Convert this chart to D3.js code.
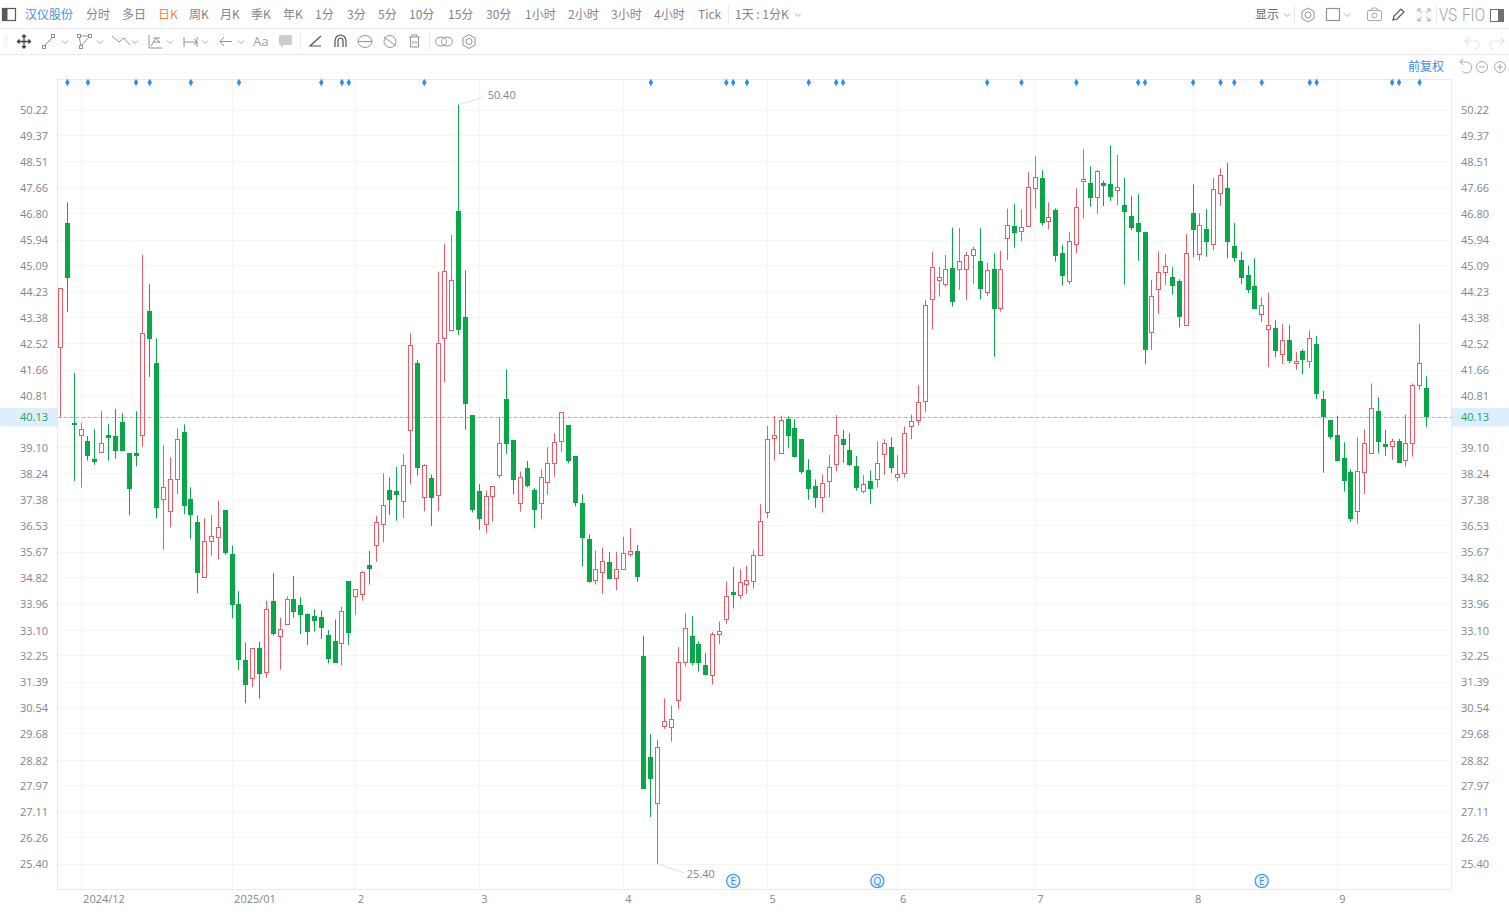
<!DOCTYPE html>
<html>
<head>
<meta charset="utf-8">
<title>汉仪股份 日K</title>
<script src="https://cdnjs.cloudflare.com/ajax/libs/d3/7.8.5/d3.min.js"></script>
<style>
html,body{margin:0;padding:0;background:#fff;overflow:hidden}
svg{display:block}
text{font-family:"Noto Sans CJK SC","Open Sans",sans-serif}
</style>
</head>
<body>
<svg id="c" width="1509" height="918"></svg>
<script>
const stockName = "汉仪股份";
const periodLabels = ["分时","多日","日K","周K","月K","季K","年K","1分","3分","5分","10分","15分","30分","1小时","2小时","3小时","4小时","Tick"];
const activePeriod = "日K";
const priceTicks = [50.22,49.37,48.51,47.66,46.80,45.94,45.09,44.23,43.38,42.52,41.66,40.81,39.10,38.24,37.38,36.53,35.67,34.82,33.96,33.10,32.25,31.39,30.54,29.68,28.82,27.97,27.11,26.26,25.40];
const hiddenGridTick = [39.95];
const lastPrice = 40.13;
const highLabel = 50.40, lowLabel = 25.40;
const monthLabels = ["2024/12","2025/01","2","3","4","5","6","7","8","9"];
const monthStartIndex = [3,25,43,61,82,103,122,142,165,186];
const dotIndex = [1,4,11,13,19,26,38,41,42,53,86,97,98,100,109,113,114,135,140,148,157,158,165,169,171,175,182,183,194,195,198];
const eventLabels = ["E","Q","E"];
const eventIndex = [98,119,175];

const opens = [42.41,46.48,39.90,39.50,39.32,38.73,38.95,39.52,39.48,39.94,
38.90,38.91,39.50,43.59,41.89,37.39,37.01,38.07,39.61,37.39,
36.65,34.83,35.99,36.15,37.02,35.59,33.93,32.11,31.51,32.50,
31.71,34.04,32.90,33.28,34.12,33.90,33.60,33.55,33.53,32.92,
32.74,32.68,34.70,34.21,34.25,35.22,35.90,36.58,37.70,37.66,
37.31,39.68,41.88,37.47,38.10,37.54,42.71,42.94,46.89,43.39,
40.16,37.66,36.58,37.47,38.18,40.70,39.33,37.27,38.43,37.68,
37.27,37.96,38.58,39.31,39.84,38.80,37.26,36.09,34.73,35.00,
35.34,34.78,35.10,35.59,35.69,32.22,28.90,27.40,29.92,29.90,
30.79,32.03,32.90,32.63,31.92,31.61,32.95,33.43,34.34,34.23,
34.62,34.71,35.56,36.97,39.40,38.91,40.02,39.75,39.37,38.35,
37.84,37.47,37.99,38.56,39.38,39.01,38.49,37.67,38.00,38.06,
38.88,39.11,38.13,38.25,39.81,40.00,40.64,43.99,44.60,44.49,
45.01,44.98,44.98,45.43,45.24,44.23,44.98,43.71,45.97,46.40,
46.22,46.39,47.65,47.98,46.54,46.90,45.49,44.57,45.80,47.87,
47.80,47.35,47.81,47.76,47.58,47.06,46.73,46.47,46.19,42.90,
44.31,44.85,44.71,44.56,43.12,46.82,45.45,46.29,45.79,47.47,
47.65,45.74,45.28,44.78,44.42,43.49,43.00,43.03,42.18,42.63,
41.88,42.26,41.95,42.51,40.70,40.01,39.49,38.74,38.30,37.00,
38.30,38.91,40.28,39.20,39.15,39.31,38.69,39.25,41.17,41.06];
const highs = [44.35,47.18,41.56,39.93,39.49,39.71,40.30,39.88,40.38,40.24,
38.90,40.30,45.46,44.48,42.70,39.19,38.79,39.74,39.87,37.80,
36.87,36.78,36.89,37.35,37.02,35.88,34.38,32.70,32.50,32.72,
34.07,34.98,33.51,34.21,34.88,34.19,33.65,33.78,33.75,33.10,
33.45,33.87,34.70,34.45,35.05,35.70,36.86,38.26,38.12,38.47,
38.89,42.87,41.99,38.56,38.22,44.90,45.81,46.11,50.40,44.95,
40.16,37.90,37.69,37.82,40.10,41.68,39.33,38.32,38.67,37.77,
38.39,39.12,39.58,40.29,39.85,38.80,37.57,36.25,35.72,35.81,
35.68,35.68,36.17,36.45,35.90,32.91,29.68,29.48,30.85,30.61,
32.54,33.65,33.56,32.72,32.34,33.03,33.38,34.70,35.18,35.10,
35.21,35.74,37.24,39.82,40.15,40.16,40.13,40.04,39.37,38.72,
38.06,38.22,38.86,40.18,39.69,39.58,38.83,38.20,38.35,39.31,
39.38,39.45,38.86,39.80,40.19,41.17,43.97,45.56,45.06,45.45,
46.35,46.34,45.54,45.72,46.33,45.20,45.50,45.58,46.97,47.12,
46.95,48.17,48.71,48.24,47.18,46.98,45.78,46.19,47.64,48.94,
48.36,48.25,47.89,49.05,48.74,47.99,47.39,47.45,46.19,44.63,
45.56,45.48,45.05,44.65,46.14,47.77,46.82,46.95,47.98,48.30,
48.48,46.50,45.56,45.10,45.34,44.05,44.21,43.30,43.17,43.14,
42.26,42.35,42.97,42.78,40.97,40.01,40.15,39.28,38.39,39.45,
39.71,41.22,40.77,39.69,39.40,39.40,40.20,41.22,43.18,41.45];
const lows = [40.09,43.58,38.01,37.79,38.68,38.54,38.95,38.68,38.74,39.01,
36.88,38.49,39.14,41.44,36.78,35.74,36.48,37.58,36.91,36.09,
34.31,34.83,35.55,35.42,35.58,33.49,31.78,30.69,31.22,30.84,
31.53,32.92,31.80,33.28,33.51,32.97,32.61,33.05,32.81,32.00,
32.03,31.94,32.61,33.60,34.07,34.60,35.35,35.99,36.89,36.70,
36.78,37.89,38.19,37.01,36.53,37.01,41.26,42.94,42.81,39.69,
36.97,36.40,36.29,36.68,38.10,38.90,37.56,37.00,37.80,36.45,
36.75,37.55,38.15,38.97,38.59,37.17,35.19,34.66,34.60,34.29,
34.77,34.41,35.08,35.52,34.69,27.87,26.95,25.40,29.85,29.43,
30.51,31.90,31.94,31.73,31.60,31.31,32.65,33.31,33.81,34.13,
34.29,34.46,35.55,36.78,38.68,38.91,39.08,38.78,38.24,37.39,
37.13,36.97,37.47,38.32,38.61,38.50,37.69,37.60,37.26,37.79,
38.21,38.27,38.00,38.12,39.38,39.84,40.26,43.00,44.08,44.41,
43.75,44.30,43.97,44.50,43.99,44.10,42.10,43.58,45.28,45.69,
45.89,46.36,46.97,46.41,46.29,45.23,44.44,44.48,45.50,46.66,
47.04,46.80,47.06,47.23,47.09,44.47,46.27,45.26,41.86,42.32,
43.50,44.47,44.14,43.06,43.12,45.37,45.26,45.39,45.61,47.06,
45.34,45.23,44.49,44.19,43.68,43.24,41.75,42.08,41.86,41.88,
41.67,41.52,41.73,40.71,38.28,39.38,38.65,37.66,36.67,36.61,
37.58,38.90,38.92,38.84,38.70,38.61,38.48,38.81,41.01,39.78];
const closes = [44.35,44.71,39.88,39.71,38.87,38.67,39.25,39.46,39.03,39.03,
37.75,38.84,42.86,42.69,37.15,37.79,38.07,39.38,37.22,36.89,
35.02,36.02,36.17,36.49,35.63,33.93,32.11,31.32,32.50,31.67,
33.78,32.98,33.13,34.11,33.71,33.60,33.05,33.42,33.20,32.15,
32.04,33.72,33.01,34.45,34.99,35.12,36.65,37.20,37.39,37.57,
38.51,42.47,38.45,38.51,37.49,42.54,44.90,44.60,42.99,40.55,
37.05,36.76,37.50,37.81,39.24,39.24,38.05,38.13,37.87,37.05,
38.13,38.59,39.28,40.25,38.68,37.27,36.14,34.71,35.09,35.36,
34.80,35.08,35.63,35.69,34.86,27.87,28.22,29.23,30.08,30.16,
32.04,33.16,32.03,32.03,31.61,32.96,33.06,34.19,34.26,34.65,
34.74,35.57,36.69,39.37,39.51,40.01,39.50,38.84,38.32,37.75,
37.49,37.93,38.46,39.51,39.22,38.56,37.80,37.90,37.77,38.59,
39.25,38.45,38.23,39.58,39.97,40.60,43.79,45.05,44.70,44.98,
43.91,45.24,45.43,45.64,44.36,44.94,43.68,44.98,46.41,46.21,
46.36,47.66,48.00,46.54,46.68,45.42,44.76,45.89,47.02,47.94,
47.35,48.19,47.73,47.35,47.68,46.87,46.38,46.21,42.35,44.09,
44.87,45.06,44.45,43.41,45.49,46.28,46.41,45.88,47.60,48.07,
45.89,45.37,44.72,44.31,43.69,43.78,43.12,42.29,42.63,41.96,
41.95,41.99,42.70,40.91,40.15,39.49,38.68,38.01,36.78,38.33,
39.25,40.40,39.30,39.14,39.30,38.62,39.24,41.16,41.88,40.13];

// ---- layout ----
const W=1509,H=918;
const plot={l:57.5,r:1451.5,t:79.5,b:889.5};
const UP="#ec5c66",DOWN="#09a64a",GRID="#f3f5f7",BORDER="#e8ebee",AX="#80868e",BLUE="#3b8ae6",ICON="#8f959c";
const svg=d3.select("#c");
const crisp=v=>Math.floor(v)+0.5;

const x=d3.scaleLinear().domain([0,opens.length-1]).range([60.5,1426.5]);
const y=d3.scaleLinear().domain([25.40,50.22]).range([864,110]);

// grid
const grid=svg.append("g");
grid.selectAll("line.h").data(priceTicks.concat(hiddenGridTick)).join("line").attr("class","h")
 .attr("x1",plot.l).attr("x2",plot.r).attr("y1",d=>crisp(y(d))).attr("y2",d=>crisp(y(d))).attr("stroke",GRID);
grid.selectAll("line.v").data(monthStartIndex).join("line").attr("class","v")
 .attr("x1",d=>crisp(x(d))).attr("x2",d=>crisp(x(d))).attr("y1",plot.t).attr("y2",plot.b).attr("stroke",GRID);
// frame
grid.append("path").attr("fill","none").attr("stroke",BORDER)
 .attr("d",`M${plot.l},${plot.t}H${plot.r}M${plot.l},${plot.t}V${plot.b}H${plot.r}V${plot.t}`);

// axes
function styleAxis(g){g.select(".domain").remove();g.selectAll(".tick line").remove();
 g.selectAll("text").attr("fill",AX).attr("font-size",11).style("font-family",'"Open Sans","Noto Sans CJK SC",sans-serif');}
svg.append("g").attr("transform","translate(48,0.4)")
 .call(d3.axisLeft(y).tickValues(priceTicks).tickSize(0).tickPadding(0).tickFormat(d3.format(".2f"))).call(styleAxis);
svg.append("g").attr("transform","translate(1461,0.4)")
 .call(d3.axisRight(y).tickValues(priceTicks).tickSize(0).tickPadding(0).tickFormat(d3.format(".2f"))).call(styleAxis);
const xAxisScale=d3.scaleOrdinal().domain(monthStartIndex).range(monthStartIndex.map(i=>x(i)+1.5));
svg.append("g").attr("transform","translate(0,894)")
 .call(d3.axisBottom(xAxisScale).tickValues(monthStartIndex).tickSize(0).tickPadding(0).tickFormat((d,i)=>monthLabels[i]))
 .call(styleAxis).selectAll("text").attr("text-anchor","start").attr("dy","0.85em");

// price line & boxes
const py=crisp(y(lastPrice))+1;
svg.append("line").attr("x1",plot.l).attr("x2",plot.r).attr("y1",py).attr("y2",py)
 .attr("stroke","#f9a264").attr("stroke-dasharray","4,2");
[[0,57],[1452,57]].forEach(([bx,bw],i)=>{
 svg.append("rect").attr("x",bx).attr("y",py-9.5).attr("width",bw).attr("height",18.5).attr("fill","#deeefc");
 svg.append("text").attr("x",i?1461:48).attr("y",py).attr("dy","0.35em").attr("text-anchor",i?"start":"end")
  .attr("font-size",11).attr("fill","#19a463").style("font-family",'"Open Sans",sans-serif').text(d3.format(".2f")(lastPrice));
});

// candles
const idx=d3.range(opens.length);
const colorOf=i=>closes[i]>=opens[i]?UP:DOWN;
const bodyTop=i=>crisp(y(Math.max(opens[i],closes[i])));
const bodyH=i=>Math.max(1,Math.round(Math.abs(y(opens[i])-y(closes[i]))));
const candles=svg.append("g").selectAll("g").data(idx).join("g")
 .attr("transform",i=>`translate(${crisp(x(i))},0)`);
candles.append("line").attr("y1",i=>y(highs[i])).attr("y2",bodyTop).attr("stroke",colorOf);
candles.append("line").attr("y1",i=>bodyTop(i)+bodyH(i)).attr("y2",i=>Math.max(y(lows[i]),bodyTop(i)+bodyH(i))).attr("stroke",colorOf);
candles.append("rect")
 .attr("x",-2).attr("width",4)
 .attr("y",bodyTop)
 .attr("height",bodyH)
 .attr("fill",i=>closes[i]>=opens[i]?"none":DOWN)
 .attr("stroke",colorOf);

// hi / lo labels
const hiI=highs.indexOf(d3.max(highs)),loI=lows.indexOf(d3.min(lows));
svg.append("path").attr("fill","none").attr("stroke","#dfe2e6")
 .attr("d",d3.line()([[x(hiI),y(highLabel)],[x(hiI)+24,y(highLabel)-7]]));
svg.append("text").attr("x",x(hiI)+29).attr("y",y(highLabel)-9.5).attr("dy","0.35em").attr("font-size",11).attr("fill",AX)
 .style("font-family",'"Open Sans",sans-serif').text(d3.format(".2f")(highLabel));
svg.append("path").attr("fill","none").attr("stroke","#dfe2e6")
 .attr("d",d3.line()([[x(loI),y(lowLabel)],[x(loI)+27,y(lowLabel)+9]]));
svg.append("text").attr("x",x(loI)+29).attr("y",y(lowLabel)+10).attr("dy","0.35em").attr("font-size",11).attr("fill",AX)
 .style("font-family",'"Open Sans",sans-serif').text(d3.format(".2f")(lowLabel));

// blue markers
svg.append("g").selectAll("path").data(dotIndex).join("path")
 .attr("d",d3.symbol(d3.symbolDiamond,17)).attr("fill","#2a8ff0")
 .attr("transform",i=>`translate(${x(i)},82.5)`);

// event badges
const ev=svg.append("g").selectAll("g").data(eventIndex).join("g")
 .attr("transform",i=>`translate(${x(i)},881)`);
ev.append("circle").attr("r",6.6).attr("fill","#e6f2fe").attr("stroke","#4a9df0").attr("stroke-width",1.3);
ev.append("text").attr("text-anchor","middle").attr("dy","0.36em").attr("font-size",10).attr("fill","#3b8ae6")
 .style("font-family",'"Open Sans",sans-serif').text((d,i)=>eventLabels[i]);

// ---- toolbars ----
const tb=svg.append("g");
tb.append("line").attr("x1",0).attr("x2",W).attr("y1",28.5).attr("y2",28.5).attr("stroke","#e8ebee");
tb.append("line").attr("x1",0).attr("x2",W).attr("y1",54.5).attr("y2",54.5).attr("stroke","#e8ebee");
const sep=(sx,a,b)=>tb.append("line").attr("x1",sx).attr("x2",sx).attr("y1",a).attr("y2",b).attr("stroke","#e8ebee");
[[728.5,5,24],[1294.5,5,24],[1436.5,5,24],[300.5,33,50],[429.5,33,50]].forEach(s=>sep(...s));

const periodX=[86,122,158,189,220,251,283,315,347,378,409,448,486,525,568,611,654,698];
const label=(t,lx,ly,fs,fill,anchor)=>tb.append("text").attr("x",lx).attr("y",ly).attr("dy","0.36em")
 .attr("font-size",fs).attr("fill",fill).attr("text-anchor",anchor||"start").text(t);
label(stockName,25,15,12,"#4a8fe0");
periodLabels.forEach((p,i)=>label(p,periodX[i],15,12,p===activePeriod?"#f5843c":"#80858c"));
label("1天 : 1分K",735,15,12,"#80858c");
label("显示",1255,15,12,"#666b72");
label("前复权",1408,67,12,"#3b8ae6");
label("VS",1439,15,18,"#9ba1a8").attr("font-weight",300).attr("textLength",18).attr("lengthAdjust","spacingAndGlyphs").style("font-family",'Roboto,sans-serif');
label("FIO",1462,15,18,"#9ba1a8").attr("font-weight",300).attr("textLength",23).attr("lengthAdjust","spacingAndGlyphs").style("font-family",'Roboto,sans-serif');
label("Aa",253,41,13,"#9ba1a8").style("font-family",'"Open Sans",sans-serif');

const ic=(d,c,w)=>tb.append("path").attr("d",d).attr("fill","none").attr("stroke",c||ICON).attr("stroke-width",w||1);
const chev=(cx,cy)=>ic(`M${cx-3},${cy-1.5}L${cx},${cy+1.5}L${cx+3},${cy-1.5}`,"#a6abb2");
const gear=(cx,cy)=>{ic(d3.range(7).map(k=>{const a=Math.PI/3*k-Math.PI/2;return `${k?"L":"M"}${cx+7*Math.cos(a)},${cy+7*Math.sin(a)}`}).join(""));
 tb.append("circle").attr("cx",cx).attr("cy",cy).attr("r",3).attr("fill","none").attr("stroke",ICON);};
// row 1
tb.append("rect").attr("x",2.5).attr("y",8.5).attr("width",13).attr("height",12).attr("fill","none").attr("stroke","#55595f").attr("stroke-width",1.2);
tb.append("rect").attr("x",3).attr("y",9).attr("width",4.5).attr("height",11).attr("fill","#55595f");
chev(798,15);chev(1287,15);chev(1347,15);
gear(1308,15);
tb.append("rect").attr("x",1326.5).attr("y",8.5).attr("width",13).attr("height",12).attr("fill","none").attr("stroke","#8a93a0").attr("stroke-width",1.2);
tb.append("rect").attr("x",1367.5).attr("y",10.5).attr("width",14).attr("height",10).attr("rx",1.5).attr("fill","none").attr("stroke","#a3a8ae");
ic("M1371,10.5l1.5,-2.5h4l1.5,2.5","#a3a8ae");
tb.append("circle").attr("cx",1374.5).attr("cy",15.5).attr("r",2.5).attr("fill","none").attr("stroke","#a3a8ae");
ic("M1393,20l1,-4l7,-7l3,3l-7,7z","#50555b",1.2);
ic("M1418,12v-3h3M1427,9h3v3M1418,18v3h3M1430,18v3h-3M1419,10l3,3M1429,10l-3,3M1419,20l3,-3M1429,20l-3,-3","#a3a8ae");
tb.append("rect").attr("x",1490.5).attr("y",9.5).attr("width",13).attr("height",12).attr("fill","none").attr("stroke","#6b7077");
tb.append("rect").attr("x",1498).attr("y",10).attr("width",5).attr("height",11).attr("fill","#6b7077");
// row 2
ic("M3,36h5M3,38h5M3,40h5M3,42h5M3,44h5M3,46h5","#eceef0");
ic("M24,35v13M17.5,41.5h13M22,37l2,-2l2,2M22,46l2,2l2,-2M19.5,39.5l-2,2l2,2M28.5,39.5l2,2l-2,2","#3a3f45",1.3);
ic("M44,46L53,37",ICON);
tb.append("rect").attr("x",42.5).attr("y",45.5).attr("width",3).attr("height",3).attr("fill","#fff").attr("stroke",ICON);
tb.append("rect").attr("x",51.5).attr("y",34.5).attr("width",3).attr("height",3).attr("fill","#fff").attr("stroke",ICON);
chev(65,42);
ic("M79,36L90,36L81,46Z",ICON);
[[77.5,34.5],[88.5,34.5],[79.5,45.5]].forEach(p=>tb.append("rect").attr("x",p[0]).attr("y",p[1]).attr("width",3).attr("height",3).attr("fill","#fff").attr("stroke",ICON));
chev(100,42);
ic("M112,36L119,42L124,38L130,45",ICON);chev(135,42);
ic("M149,35V48H162M151,46L156,38L160,43M153,38h7M153,42h7",ICON);chev(170,42);
ic("M184,37V47M197,37V47M184,42H197M194,39l3,3l-3,3",ICON);chev(205,42);
ic("M220,41.5H232M224,37l-4,4.5l4,4.5",ICON);chev(241,42);
tb.append("path").attr("d","M280,35h11a1,1 0 0 1 1,1v8a1,1 0 0 1 -1,1h-7l-3,3v-3h-1a1,1 0 0 1 -1,-1v-8a1,1 0 0 1 1,-1z").attr("fill","#c9cdd2");
ic("M321,36L310,46H321","#50555b",1.2);
ic("M335,47V41a5.5,6 0 0 1 11,0V47M338,47V41a2.5,3 0 0 1 5,0V47","#50555b",1.2);
tb.append("ellipse").attr("cx",365).attr("cy",41.5).attr("rx",7).attr("ry",6).attr("fill","none").attr("stroke",ICON);
ic("M358,41.5h14",ICON);
tb.append("circle").attr("cx",390).attr("cy",41.5).attr("r",6).attr("fill","none").attr("stroke",ICON);
ic("M384,37L396,46",ICON);
ic("M409,37h11M412,37v-2h5v2M410.5,37v10h8V37M413,41v3M416,41v3",ICON);
tb.append("ellipse").attr("cx",441).attr("cy",41.5).attr("rx",5.5).attr("ry",4.5).attr("fill","none").attr("stroke",ICON);
tb.append("ellipse").attr("cx",447).attr("cy",41.5).attr("rx",5.5).attr("ry",4.5).attr("fill","none").attr("stroke",ICON);
gear(469,41.5);
ic("M1466,41h9a4,4 0 0 1 0,8M1469,37l-4,4l4,4","#e3e5e8",1.2);
ic("M1503,41h-9a4,4 0 0 0 0,8M1500,37l4,4l-4,4","#e3e5e8",1.2);
// row 3 controls
ic("M1460,62h6a5.5,5.5 0 1 1 -3.5,9.5M1463,59l-3,3l3,3","#a3a8ae");
[1482,1500].forEach((cx,i)=>{
 tb.append("circle").attr("cx",cx).attr("cy",67).attr("r",5.5).attr("fill","none").attr("stroke","#a3a8ae");
 ic(`M${cx-3},67h6`+(i?`M${cx},64v6`:""),"#a3a8ae");
});
</script>
</body>
</html>
